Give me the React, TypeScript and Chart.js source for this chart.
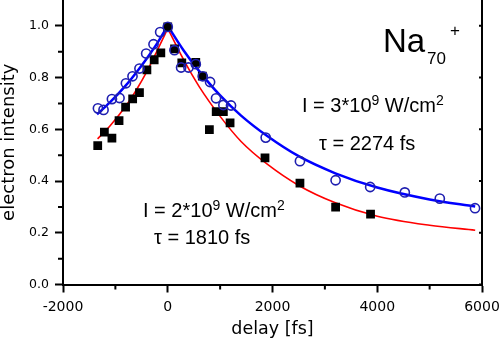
import React, { useEffect, useRef } from "react";
import { Chart, registerables } from "chart.js";

Chart.register(...registerables);

// Measured data: I = 3*10^9 W/cm^2 (open blue circles)
const circleX = [-1333, -1226, -1066, -921, -799, -673, -540, -412, -272, -145, 0, 128, 255, 395, 535, 668, 808, 922, 1062, 1208, 1870, 2524, 3205, 3865, 4526, 5194, 5867];
const circleY = [0.681, 0.675, 0.717, 0.721, 0.778, 0.805, 0.835, 0.893, 0.929, 0.976, 0.996, 0.906, 0.839, 0.839, 0.852, 0.805, 0.783, 0.72, 0.694, 0.692, 0.568, 0.477, 0.403, 0.377, 0.356, 0.332, 0.295];

// Measured data: I = 2*10^9 W/cm^2 (filled black squares)
const squareX = [-1337, -1210, -1066, -930, -805, -670, -540, -398, -259, -132, 0, 130, 268, 535, 660, 795, 925, 1062, 1190, 1857, 2524, 3205, 3872];
const squareY = [0.537, 0.589, 0.566, 0.634, 0.686, 0.718, 0.742, 0.83, 0.869, 0.896, 0.996, 0.911, 0.857, 0.859, 0.806, 0.599, 0.668, 0.668, 0.625, 0.49, 0.392, 0.299, 0.272];

// Fit curves (rise and decay branches)
const blueRiseX = [-1350, -1100, -800, -600, -400, -200, 0];
const blueRiseY = [0.658, 0.705, 0.77, 0.82, 0.874, 0.933, 1.0];
const blueDecayX = [0, 300, 600, 1000, 1400, 1900, 2500, 3200, 4000, 5000, 5870];
const blueDecayY = [1.0, 0.906, 0.825, 0.731, 0.653, 0.574, 0.496, 0.43, 0.375, 0.329, 0.302];
const redRiseX = [-1340, -1100, -800, -600, -400, -200, 0];
const redRiseY = [0.563, 0.614, 0.69, 0.752, 0.823, 0.905, 0.99];
const redDecayX = [0, 300, 600, 1000, 1400, 1900, 2500, 3200, 4000, 5000, 5870];
const redDecayY = [0.99, 0.87, 0.765, 0.65, 0.553, 0.465, 0.383, 0.316, 0.264, 0.229, 0.21];

// Axis ticks
const xTicks = [-2000, 0, 2000, 4000, 6000];
const xMinorTicks = [-1000, 1000, 3000, 5000];
const yTicks = [0.0, 0.2, 0.4, 0.6, 0.8, 1.0];
const yMinorTicks = [0.1, 0.3, 0.5, 0.7, 0.9];

const AXIS_FONT = '"DejaVu Sans", Verdana, sans-serif';
const TEXT_FONT = '"Liberation Sans", Arial, Helvetica, sans-serif';

function pts(xs: number[], ys: number[]) {
  return xs.map((x, i) => ({ x, y: ys[i] }));
}

type Part = [string, number, number];

function drawRich(ctx: CanvasRenderingContext2D, x: number, y: number, parts: Part[]) {
  let cx = x;
  for (const [t, size, dy] of parts) {
    ctx.font = `${size}px ${TEXT_FONT}`;
    ctx.fillText(t, cx, y + dy);
    cx += ctx.measureText(t).width;
  }
}

const decorPlugin = {
  id: "decor",
  afterDraw(chart: any) {
    const { ctx, chartArea, scales } = chart;
    const { left, right, bottom } = chartArea;
    const xs = scales.x;
    const ys = scales.y;
    ctx.save();
    ctx.strokeStyle = "#000";
    ctx.lineWidth = 2;
    ctx.beginPath();
    for (const v of xMinorTicks) {
      const px = xs.getPixelForValue(v);
      ctx.moveTo(px, bottom);
      ctx.lineTo(px, bottom + 5);
    }
    for (const v of yMinorTicks) {
      const py = ys.getPixelForValue(v);
      ctx.moveTo(left - 5, py);
      ctx.lineTo(left, py);
    }
    // right frame
    ctx.moveTo(right, 0);
    ctx.lineTo(right, bottom);
    for (const v of yTicks) {
      const py = ys.getPixelForValue(v);
      ctx.moveTo(right - 3, py);
      ctx.lineTo(right, py);
    }
    ctx.stroke();

    // annotations
    ctx.fillStyle = "#000";
    ctx.textAlign = "left";
    ctx.textBaseline = "alphabetic";
    ctx.font = `33px ${TEXT_FONT}`;
    ctx.fillText("Na", 383, 52);
    ctx.font = `17px ${TEXT_FONT}`;
    ctx.fillText("70", 427, 63.5);
    ctx.textAlign = "center";
    ctx.fillText("+", 455, 35.5);
    ctx.textAlign = "left";

    drawRich(ctx, 302, 112, [["I = 3*10", 20, 0], ["9", 14, -7], [" W/cm", 20, 0], ["2", 14, -7]]);
    drawRich(ctx, 319, 150, [["\u03c4 = 2274 fs", 20, 0]]);
    drawRich(ctx, 143, 217, [["I = 2*10", 20, 0], ["9", 14, -7], [" W/cm", 20, 0], ["2", 14, -7]]);
    drawRich(ctx, 154, 243.5, [["\u03c4 = 1810 fs", 20, 0]]);
    ctx.restore();
  },
};

export default function App() {
  const ref = useRef<HTMLCanvasElement>(null);
  useEffect(() => {
    document.body.style.margin = "0";
    const canvas = ref.current!;
    const chart = new Chart(canvas, {
      type: "scatter",
      data: {
        datasets: [
          {
            label: "3e9 data",
            data: pts(circleX, circleY),
            pointStyle: "circle",
            pointRadius: 4.6,
            pointBorderWidth: 1.6,
            pointBorderColor: "#1f1fb0",
            pointBackgroundColor: "rgba(0,0,0,0)",
            borderColor: "#1f1fb0",
            backgroundColor: "rgba(0,0,0,0)",
            order: 0,
          },
          {
            label: "2e9 data",
            data: pts(squareX, squareY),
            pointStyle: "rect",
            pointRadius: 6.2,
            pointBorderWidth: 0,
            pointBackgroundColor: "#000",
            pointBorderColor: "#000",
            backgroundColor: "#000",
            order: 1,
          },
          {
            label: "3e9 rise",
            data: pts(blueRiseX, blueRiseY),
            showLine: true,
            pointRadius: 0,
            borderColor: "#0000ff",
            borderWidth: 2.5,
            cubicInterpolationMode: "monotone",
            order: 2,
          },
          {
            label: "3e9 decay",
            data: pts(blueDecayX, blueDecayY),
            showLine: true,
            pointRadius: 0,
            borderColor: "#0000ff",
            borderWidth: 2.5,
            cubicInterpolationMode: "monotone",
            order: 2,
          },
          {
            label: "2e9 rise",
            data: pts(redRiseX, redRiseY),
            showLine: true,
            pointRadius: 0,
            borderColor: "#ff0000",
            borderWidth: 1.6,
            cubicInterpolationMode: "monotone",
            order: 3,
          },
          {
            label: "2e9 decay",
            data: pts(redDecayX, redDecayY),
            showLine: true,
            pointRadius: 0,
            borderColor: "#ff0000",
            borderWidth: 1.6,
            cubicInterpolationMode: "monotone",
            order: 3,
          },
        ] as any,
      },
      options: {
        responsive: false,
        devicePixelRatio: 1,
        animation: false,
        layout: { autoPadding: false, padding: { top: 0, right: 18, left: 0, bottom: 0 } },
        plugins: { legend: { display: false }, tooltip: { enabled: false } },
        scales: {
          x: {
            type: "linear",
            min: -2000,
            max: 6000,
            afterBuildTicks: (s: any) => {
              s.ticks = xTicks.map((v) => ({ value: v }));
            },
            afterFit: (s: any) => {
              s.height = 57.5;
              s.paddingLeft = 0;
              s.paddingRight = 0;
              s.paddingTop = 0;
              s.paddingBottom = 0;
            },
            ticks: {
              font: { family: AXIS_FONT, size: 14 },
              color: "#000",
              padding: 6,
              maxRotation: 0,
              autoSkip: false,
              callback: (v: any) => String(v),
            },
            grid: { drawOnChartArea: false, tickLength: 8, tickWidth: 2, tickColor: "#000" },
            border: { display: true, color: "#000", width: 2 },
            title: {
              display: true,
              text: "delay [fs]",
              color: "#000",
              font: { family: AXIS_FONT, size: 17.5, lineHeight: 1 },
              padding: { top: 0, bottom: 4 },
            },
          },
          y: {
            type: "linear",
            min: 0,
            max: 1.1,
            afterBuildTicks: (s: any) => {
              s.ticks = yTicks.map((v) => ({ value: v }));
            },
            afterFit: (s: any) => {
              s.width = 63;
              s.paddingLeft = 0;
              s.paddingRight = 0;
              s.paddingTop = 0;
              s.paddingBottom = 0;
            },
            ticks: {
              font: { family: AXIS_FONT, size: 12.5 },
              color: "#000",
              padding: 6,
              callback: (v: any) => Number(v).toFixed(1),
            },
            grid: { drawOnChartArea: false, tickLength: 8, tickWidth: 2, tickColor: "#000" },
            border: { display: true, color: "#000", width: 2 },
            title: {
              display: true,
              text: "electron intensity",
              color: "#000",
              font: { family: AXIS_FONT, size: 18, lineHeight: 1 },
              padding: { top: 0, bottom: 0 },
            },
          },
        },
      } as any,
      plugins: [decorPlugin],
    });
    return () => chart.destroy();
  }, []);
  return (
    <div style={{ width: 500, height: 342 }}>
      <canvas ref={ref} width={500} height={342} style={{ display: "block", width: 500, height: 342 }} />
    </div>
  );
}
